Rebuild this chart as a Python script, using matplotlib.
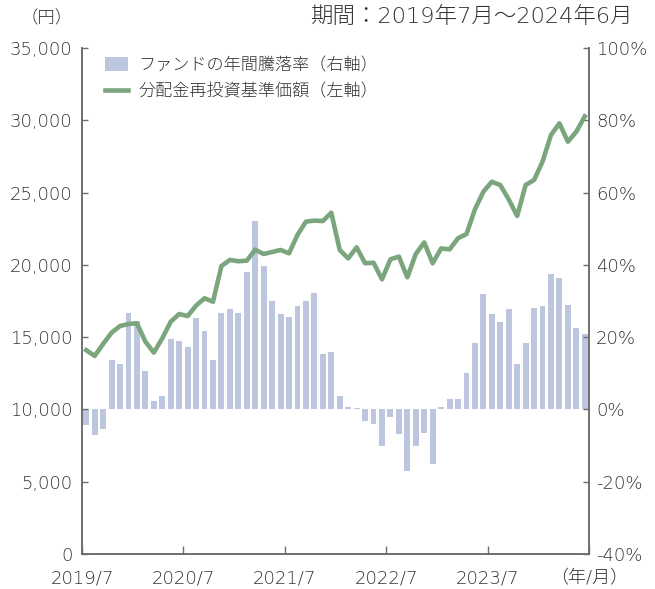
import matplotlib
matplotlib.use("Agg")
import matplotlib.pyplot as plt
from matplotlib.patches import Patch
from matplotlib.lines import Line2D
import numpy as np

plt.rcParams['font.family'] = ['DejaVu Sans', 'Noto Sans CJK JP']

# 2019/7 .. 2024/6 monthly
tick_labels = ["2019/7", "2020/7", "2021/7", "2022/7", "2023/7", "（年/月）"]

annual_return = [  # % (right axis)
    -4.4, -7.2, -5.5, 13.8, 12.7, 26.8, 24.4, 10.5, 2.2, 3.6,
    19.4, 18.8, 17.4, 25.2, 21.6, 13.8, 26.8, 27.7, 26.6, 37.9,
    52.0, 39.8, 29.9, 26.3, 25.7, 28.5, 29.9, 32.1, 15.2, 16.0,
    3.6, 0.8, 0.3, -3.3, -3.9, -10.0, -2.2, -6.9, -16.9, -10.2,
    -6.6, -15.1, 0.6, 2.8, 2.8, 10.2, 18.5, 31.8, 26.3, 24.1,
    27.9, 12.7, 18.3, 28.2, 28.5, 37.6, 36.5, 28.8, 22.4, 20.8,
]

nav = [  # yen (left axis)
    14100, 13700, 14530, 15310, 15770, 15910, 15960, 14690, 13930, 14920,
    16070, 16600, 16460, 17180, 17690, 17450, 19920, 20340, 20250, 20290,
    21050, 20750, 20890, 21030, 20800, 22070, 22990, 23060, 23030, 23610,
    21030, 20450, 21210, 20110, 20150, 19000, 20380, 20570, 19140, 20750,
    21550, 20110, 21140, 21070, 21840, 22130, 23840, 25060, 25750, 25520,
    24530, 23380, 25520, 25870, 27140, 28980, 29790, 28520, 29210, 30270,
]

left_ticks = [0, 5000, 10000, 15000, 20000, 25000, 30000, 35000]
right_ticks = [-40, -20, 0, 20, 40, 60, 80, 100]

bar_color = "#bcc6df"
line_color = "#7ba57d"
spine_color = "#6e6e6e"
text_color = "#333333"
fs = 13

fig = plt.figure(figsize=(6.55, 5.89), dpi=100)
ax = fig.add_axes([82/655, 1-554/589, (589-82)/655, (554-48)/589])
ax2 = ax.twinx()

x = np.arange(len(nav)) + 0.5
ax2.bar(x, annual_return, width=0.7, color=bar_color, zorder=1)
ax.plot(x, nav, color=line_color, lw=3.3, solid_joinstyle='round', zorder=3)

ax.set_zorder(ax2.get_zorder() + 1)
ax.patch.set_visible(False)

ax.set_xlim(0, 60)
ax.set_ylim(0, 35000)
ax2.set_ylim(-40, 100)

ax.set_yticks(left_ticks)
ax.set_yticklabels([f"{v:,}" for v in left_ticks])
ax2.set_yticks(right_ticks)
ax2.set_yticklabels([f"{v}%" for v in right_ticks])
ax.set_xticks([0, 12, 24, 36, 48, 60])
ax.set_xticklabels(tick_labels)

for a in (ax, ax2):
    for s in a.spines.values():
        s.set_color(spine_color)
        s.set_linewidth(1.2)
    a.spines['top'].set_visible(False)
    a.tick_params(colors=spine_color, labelcolor=text_color, labelsize=fs,
                  direction='in', width=1.0)
    for lab in a.get_xticklabels() + a.get_yticklabels():
        lab.set_fontweight('light')
ax.tick_params(axis='y', length=4.5, pad=7)
ax2.tick_params(axis='y', length=4.5, pad=5)
ax.tick_params(axis='x', length=6, pad=11)

handles = [Patch(facecolor=bar_color, edgecolor='none'),
           Line2D([0], [0], color=line_color, lw=3.3)]
labels = ["ファンドの年間騰落率（右軸）", "分配金再投資基準価額（左軸）"]
leg = ax.legend(handles, labels, loc='upper left', bbox_to_anchor=(0.015, 1.012),
                frameon=False,
                prop={'family': ['Noto Sans CJK JP'], 'size': 12.3, 'weight': 'light'},
                handlelength=1.35, handleheight=0.9,
                handletextpad=0.6, labelspacing=0.55, labelcolor=text_color)

fig.text(47/655, 1-18/589, "（円）", ha='center', va='center', fontsize=12.5,
         color=text_color, family=['Noto Sans CJK JP'], fontweight='light')
fig.text(633/655, 1-17/589, "期間：2019年7月～2024年6月", ha='right', va='center',
         fontsize=16.2, color=text_color, fontweight='light')

fig.savefig("out.png", dpi=100)
